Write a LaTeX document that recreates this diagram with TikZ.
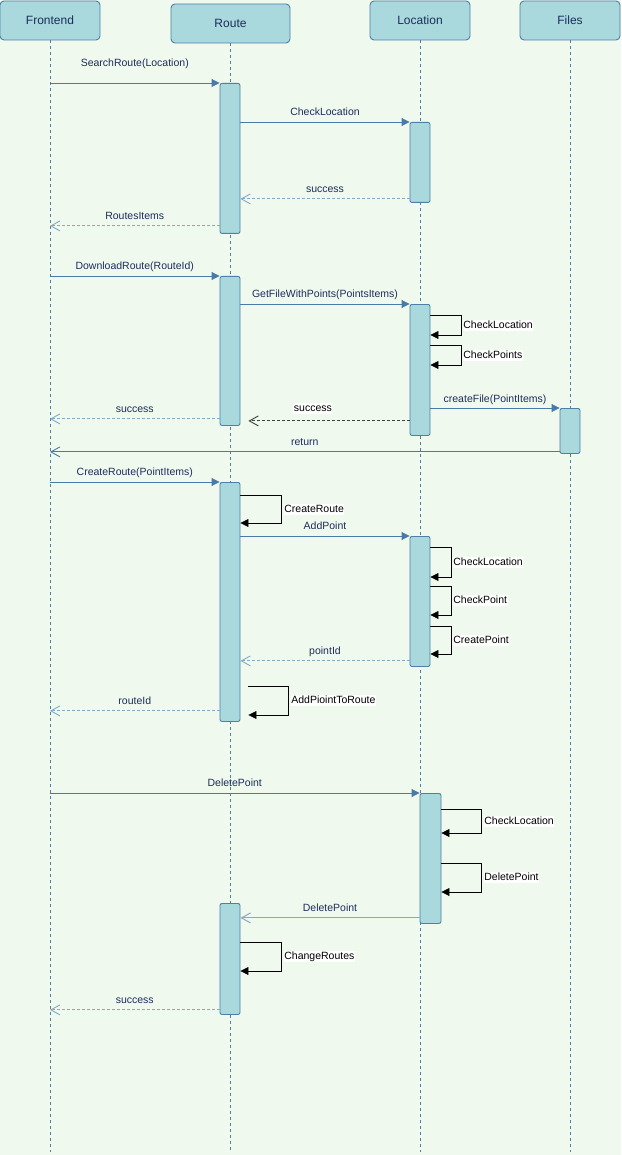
\documentclass[tikz,border=0pt]{standalone}
\usepackage{fontspec}
\setmainfont{Liberation Sans}
\usetikzlibrary{positioning,arrows.meta}
\definecolor{bgcol}{HTML}{F0F9EE}
\definecolor{boxfill}{HTML}{A9D9DC}
\definecolor{boxline}{HTML}{4E7FA8}
\definecolor{msgline}{HTML}{4A7BA7}
\definecolor{retline}{HTML}{86A9C4}
\definecolor{txtcol}{HTML}{1C2D5A}

\begin{document}
\begin{tikzpicture}[x=1pt, y=-1pt,
        actor/.style={draw=boxline, fill=boxfill, rounded corners=4pt, minimum width=100pt, minimum height=39pt, text=txtcol, font=\fontsize{12}{14}\selectfont, line width=0.9pt},
        bar/.style={draw=boxline, fill=boxfill, rounded corners=2pt, minimum width=20pt, anchor=north, line width=0.9pt},
        lifeline/.style={draw=boxline, dashed, dash pattern=on 3pt off 3pt, line width=0.8pt},
        msg/.style={draw=msgline, line width=0.9pt, -{Triangle[length=8pt, width=8pt]}},
        ret/.style={draw=retline, line width=0.9pt, dash pattern=on 3pt off 2pt, -{Straight Barb[length=9pt, width=10pt]}},
        retdark/.style={draw=black!75, line width=0.9pt, dash pattern=on 3pt off 2pt, -{Straight Barb[length=9pt, width=10pt]}},
        retsolid/.style={draw=msgline, line width=0.9pt, -{Straight Barb[length=9pt, width=10pt]}},
        retlight/.style={draw=retline, line width=1pt, -{Straight Barb[length=9pt, width=10pt]}},
        self/.style={draw=black, line width=0.8pt, -{Triangle[length=8pt, width=8pt]}},
        lbl/.style={text=txtcol, font=\fontsize{10.5}{12}\selectfont, text height=8pt, text depth=2pt, inner sep=1pt},
        slbl/.style={text=black, fill=white, font=\fontsize{10.5}{12}\selectfont, text height=8pt, text depth=2pt, inner sep=0.5pt}]
    \fill[bgcol] (0,0) rectangle (621,1155);
    \useasboundingbox (0,0) rectangle (621,1155);
    \node[actor] (fe) at (50,20.5) {Frontend};
    \node[actor, minimum width=119pt] (rt) at (230.5,23.5) {Route};
    \node[actor] (loc) at (420,20.5) {Location};
    \node[actor] (fil) at (570,20.5) {Files};
    \coordinate (end) at (0,1152);
    \foreach \a in {fe,rt,loc,fil}
        \draw[lifeline] (\a) -- (\a |- end);
    \node[bar, minimum height=150pt] (r1) at (230,83) {};
    \node[bar, minimum height=80pt] (l1) at (420,122) {};
    \node[bar, minimum height=149pt] (r2) at (230,276) {};
    \node[bar, minimum height=131pt] (l2) at (420,304) {};
    \node[bar, minimum height=45pt] (f2) at (570,408) {};
    \node[bar, minimum height=239pt] (r3) at (230,482) {};
    \node[bar, minimum height=130pt] (l3) at (420,536) {};
    \node[bar, minimum height=130pt, minimum width=21pt] (l4) at (430.5,793) {};
    \node[bar, minimum height=111pt] (r4) at (230,903) {};

    \draw[msg] (fe |- r1.north) -- node[lbl, above=13pt] {SearchRoute(Location)} (r1.north west);
    \draw[msg] (r1.east |- l1.north) -- node[lbl, above=3pt] {CheckLocation} (l1.north west);
    \coordinate (a3) at ([yshift=4pt]l1.south west);
    \draw[ret] (a3) -- node[lbl, above=3pt] {success} (r1.east |- a3);
    \coordinate (a4) at ([yshift=8pt]r1.south west);
    \draw[ret] (a4) -- node[lbl, above=3pt] {RoutesItems} (fe |- a4);

    \draw[msg] (fe |- r2.north) -- node[lbl, above=3pt] {DownloadRoute(RouteId)} (r2.north west);
    \draw[msg] (r2.east |- l2.north) -- node[lbl, above=3pt] {GetFileWithPoints(PointsItems)} (l2.north west);
    \draw[self] ([yshift=-11pt]l2.north east) -- ++(31,0) |- node[slbl, pos=0.25, right=1pt] {CheckLocation} ([yshift=-31pt]l2.north east);
    \draw[self] ([yshift=-41pt]l2.north east) -- ++(31,0) |- node[slbl, pos=0.25, right=1pt] {CheckPoints} ([yshift=-61pt]l2.north east);
    \draw[msg] (l2.east |- f2.north) -- node[lbl, above=2pt] {createFile(PointItems)} (f2.north west);
    \coordinate (a10) at ([yshift=15pt]l2.south west);
    \coordinate (b10) at ([xshift=8pt]r2.east |- a10);
    \draw[retdark] (a10) -- node[slbl, above=6.5pt, pos=0.6] {success} (b10);
    \coordinate (a11) at ([yshift=7pt]r2.south west);
    \draw[ret] (a11) -- node[lbl, above=3pt] {success} (fe |- a11);
    \coordinate (a12) at ([yshift=2pt]f2.south west);
    \draw[retsolid] (a12) -- node[lbl, above=3pt] {return} (fe |- a12);

    \draw[msg] (fe |- r3.north) -- node[lbl, above=3pt] {CreateRoute(PointItems)} (r3.north west);
    \draw[self] ([yshift=-13pt]r3.north east) -- ++(41,0) |- node[slbl, pos=0.25, right=2pt] {CreateRoute} ([yshift=-41pt]r3.north east);
    \draw[msg] (r3.east |- l3.north) -- node[lbl, above=3pt] {AddPoint} (l3.north west);
    \draw[self] ([yshift=-11pt]l3.north east) -- ++(21,0) |- node[slbl, pos=0.25, right=1pt] {CheckLocation} ([yshift=-41pt]l3.north east);
    \draw[self] ([yshift=-50pt]l3.north east) -- ++(21,0) |- node[slbl, pos=0.25, right=1pt] {CheckPoint} ([yshift=-79pt]l3.north east);
    \draw[self] ([yshift=-90pt]l3.north east) -- ++(21,0) |- node[slbl, pos=0.25, right=1pt] {CreatePoint} ([yshift=-118pt]l3.north east);
    \coordinate (a17) at ([yshift=6pt]l3.south west);
    \draw[ret] (a17) -- node[lbl, above=3pt] {pointId} (r3.east |- a17);
    \draw[self] ([xshift=8pt, yshift=-204pt]r3.north east) -- ++(40,0) |- node[slbl, pos=0.25, right=2pt] {AddPiointToRoute} ([xshift=8pt, yshift=-233pt]r3.north east);
    \coordinate (a19) at ([yshift=11pt]r3.south west);
    \draw[ret] (a19) -- node[lbl, above=3pt] {routeId} (fe |- a19);

    \draw[msg] (fe |- l4.north) -- node[lbl, above=3pt] {DeletePoint} (l4.north west);
    \draw[self] ([yshift=-16pt]l4.north east) -- ++(40,0) |- node[slbl, pos=0.25, right=2pt] {CheckLocation} ([yshift=-40pt]l4.north east);
    \draw[self] ([yshift=-70pt]l4.north east) -- ++(40,0) |- node[slbl, pos=0.25, right=2pt] {DeletePoint} ([yshift=-99pt]l4.north east);
    \coordinate (a22) at ([yshift=6pt]l4.south west);
    \draw[retlight] (a22) -- node[lbl, above=3pt] {DeletePoint} (r4.east |- a22);
    \draw[self] ([yshift=-39pt]r4.north east) -- ++(41,0) |- node[slbl, pos=0.25, right=2pt] {ChangeRoutes} ([yshift=-68pt]r4.north east);
    \coordinate (a24) at ([yshift=5pt]r4.south west);
    \draw[ret] (a24) -- node[lbl, above=3pt] {success} (fe |- a24);
\end{tikzpicture}
\end{document}
